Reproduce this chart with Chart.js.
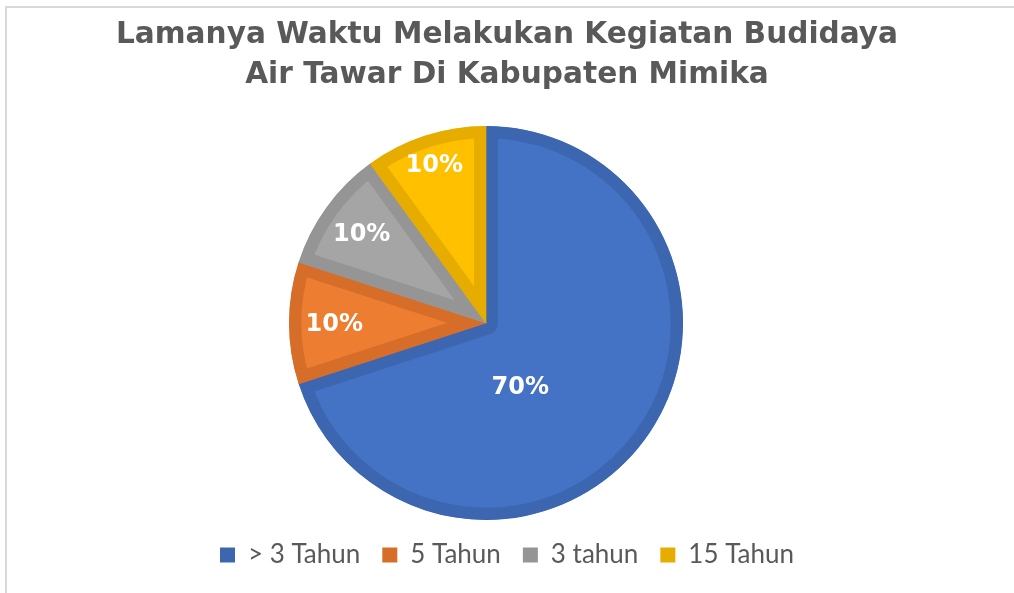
<!DOCTYPE html>
<html>
<head>
<meta charset="utf-8">
<script src="https://cdn.jsdelivr.net/npm/chart.js@4.4.1/dist/chart.umd.min.js"></script>
<style>
  html, body { margin: 0; padding: 0; background: #fff; }
  #wrap { width: 1014px; height: 593px; position: relative; }
</style>
</head>
<body>
<div id="wrap"><canvas id="myChart"></canvas></div>
<script>
// data
var categories = ["> 3 Tahun", "5 Tahun", "3 tahun", "15 Tahun"];
var percents = [70, 10, 10, 10];
var fillColors = ["#4472C4", "#ED7D31", "#A5A5A5", "#FFC000"];
var edgeColors = ["#3C66B0", "#D66E29", "#959595", "#E6AC00"];
var titleLines = ["Lamanya Waktu Melakukan Kegiatan Budidaya", "Air Tawar Di Kabupaten Mimika"];

// frame lines (top + left) like the source picture
var framePlugin = {
    id: 'frame',
    beforeDraw: function (chart) {
        var ctx = chart.ctx;
        ctx.save();
        ctx.fillStyle = '#fff';
        ctx.fillRect(0, 0, chart.width, chart.height);
        ctx.strokeStyle = '#D9D9D9';
        ctx.lineWidth = 2;
        ctx.beginPath();
        ctx.moveTo(6, chart.height);
        ctx.lineTo(6, 7);
        ctx.lineTo(chart.width, 7);
        ctx.stroke();
        ctx.restore();
    }
};

// empty box on the right so the pie sits a bit left of the title/legend
var spacerPlugin = {
    id: 'spacer',
    beforeInit: function (chart) {
        var box = {
            position: 'right',
            weight: 0,
            fullSize: false,
            options: {},
            top: 0, left: 0, right: 0, bottom: 0, width: 0, height: 0,
            isHorizontal: function () { return false; },
            update: function (maxWidth, maxHeight) { this.width = 42; this.height = maxHeight; },
            draw: function () {}
        };
        Chart.layouts.addBox(chart, box);
    }
};

// percentage labels inside the slices (best-fit-ish placement like excel)
var labelRadius = [0.365, 0.77, 0.78, 0.85];
var labelPlugin = {
    id: 'sliceLabels',
    afterDatasetsDraw: function (chart) {
        var ctx = chart.ctx;
        var meta = chart.getDatasetMeta(0);
        ctx.save();
        ctx.font = 'bold 24px "DejaVu Sans"';
        ctx.fillStyle = '#fff';
        ctx.textAlign = 'center';
        ctx.textBaseline = 'middle';
        meta.data.forEach(function (arc, i) {
            var p = arc.getProps(['x', 'y', 'startAngle', 'endAngle', 'outerRadius']);
            var mid = (p.startAngle + p.endAngle) / 2;
            if (i === 0) mid = 61.6 * Math.PI / 180;   // big slice: label pulled toward lower right
            var dist = p.outerRadius * labelRadius[i];
            var x = p.x + Math.cos(mid) * dist;
            var y = p.y + Math.sin(mid) * dist + 2;
            ctx.fillText(percents[i] + '%', x, y);
        });
        ctx.restore();
    }
};

const chart = document.getElementById("myChart");
var pieChart = new Chart(chart, {
    type: 'pie',
    data: {
        labels: categories,
        datasets: [{
            data: percents,
            backgroundColor: fillColors,
            borderColor: edgeColors,
            borderWidth: 12,
            borderAlign: 'inner',
            hoverOffset: 0
        }]
    },
    options: {
        responsive: true,
        maintainAspectRatio: false,
        animation: false,
        layout: { padding: { top: 0, bottom: 15, left: 0, right: 0 } },
        plugins: {
            title: {
                display: true,
                text: titleLines,
                color: '#595959',
                font: { family: '"DejaVu Sans"', size: 29.6, weight: 'bold', lineHeight: 1.35 },
                padding: { top: 15, bottom: 31 }
            },
            legend: {
                position: 'bottom',
                labels: {
                    color: '#595959',
                    font: { family: 'Lato', size: 26 },
                    boxWidth: 15,
                    boxHeight: 15,
                    padding: 22,
                    generateLabels: function (c) {
                        return categories.map(function (name, i) {
                            return {
                                text: name,
                                fillStyle: edgeColors[i],
                                strokeStyle: edgeColors[i],
                                lineWidth: 0,
                                fontColor: '#595959',
                                hidden: false,
                                index: i
                            };
                        });
                    }
                }
            },
            tooltip: { enabled: false }
        }
    },
    plugins: [framePlugin, spacerPlugin, labelPlugin]
});
</script>
</body>
</html>
